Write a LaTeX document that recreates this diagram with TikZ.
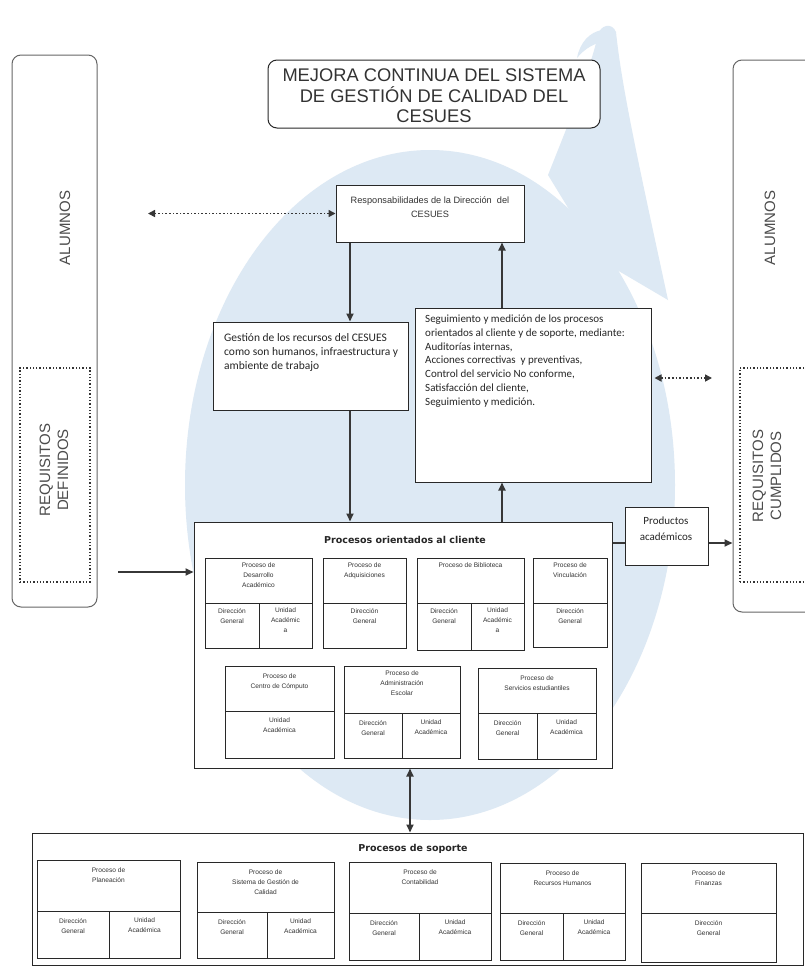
\documentclass[tikz,border=0pt]{standalone}
\usepackage{fontspec}
\setmainfont{Liberation Sans}
\newfontfamily\calfont{Carlito}
\newfontfamily\dvfont{DejaVu Sans}
\usetikzlibrary{arrows.meta,fit,calc}
\definecolor{wmc}{RGB}{221,233,244}
\definecolor{ln}{RGB}{40,40,40}
\definecolor{arc}{RGB}{55,55,55}
\newcommand\pbox[8]{%
  \node[subbox, fit={(#2,#3) (#4,#5)}] (#1) {};
  \draw[subline] (#2,#6) -- (#4,#6);
  \node[subtxt, anchor=north] (#1-t) at ($(#1.north)+(0,#8)$) {#7};
}
\newcommand\ptext[4]{\node[subtxt, anchor=north] (#1) at (#2,#3) {#4};}
\begin{document}
\begin{tikzpicture}[x=1pt,y=-1pt,
  mainbox/.style={draw=ln, line width=1pt, fill=white, inner sep=0pt},
  subbox/.style={draw=ln, line width=0.8pt, fill=white, inner sep=0pt},
  subline/.style={draw=ln, line width=0.8pt},
  sidebox/.style={draw=black!60, line width=1pt, fill=white, rounded corners=9pt, inner sep=0pt},
  dotbox/.style={draw=black!80, line width=1.3pt, dotted, inner sep=0pt},
  sidetxt/.style={rotate=90, align=center, font=\fontsize{15}{18}\selectfont, text=black!70},
  subtxt/.style={font=\fontsize{6.6}{10}\selectfont, align=center, inner sep=0pt, text=black!80},
  flow/.style={draw=arc, line width=1.8pt, -{Triangle[length=8pt,width=7pt]}},
  flowtwo/.style={draw=arc, line width=1.8pt, {Triangle[length=8pt,width=7pt]}-{Triangle[length=8pt,width=7pt]}},
  dflow/.style={draw=arc, line width=1.6pt, dotted, {Triangle[length=7pt,width=7pt]}-{Triangle[length=7pt,width=7pt]}},
  plainline/.style={draw=arc, line width=1.8pt},
  ]
\useasboundingbox (0,0) rectangle (805,975);
\fill[white] (0,0) rectangle (805,975);
% watermark
\fill[wmc] (430,485) ellipse [x radius=245pt, y radius=335pt];
\fill[wmc] (548,175) .. controls (570,120) and (590,70) .. (598,35) .. controls (600,25) and (612,22) .. (616,32) .. controls (622,90) and (640,170) .. (668,300) -- (600,260) -- cycle;
\fill[wmc] (602,30) .. controls (590,32) and (580,42) .. (577,58) .. controls (585,48) and (595,43) .. (606,41) -- cycle;

% side boxes
\node[sidebox, fit={(12,55) (97,607)}] (lbox) {};
\node[sidebox, fit={(733,60) (830,612)}] (rbox) {};
\node[sidetxt] (lalum) at (65,228) {ALUMNOS};
\node[sidetxt] (ralum) at (770,228) {ALUMNOS};
\node[dotbox, fit={(20,368) (90,582)}] (lreq) {};
\node[dotbox, fit={(740,368) (830,582)}] (rreq) {};
\node[sidetxt] (lreqt) at (54,470) {REQUISITOS\\DEFINIDOS};
\node[sidetxt] (rreqt) at (767,476) {REQUISITOS\\CUMPLIDOS};

% title
\node[mainbox, rounded corners=9pt, fit={(268,60) (600,128)}] (title) {};
\node[font=\fontsize{18.3}{20.5}\selectfont, align=center, text=black!80] (titlet) at (434,96) {MEJORA CONTINUA DEL SISTEMA\\DE GESTIÓN DE CALIDAD DEL\\CESUES};

% direction
\node[mainbox, fit={(336,185) (524,242)}] (resp) {};
\node[font=\fontsize{9.2}{14}\selectfont, align=center, text=black!80] (respt) at (430,207) {Responsabilidades de la Dirección\ \ del\\CESUES};

\node[mainbox, fit={(213,322) (408,410)}] (gest) {};
\node[font=\calfont\fontsize{11.5}{14}\selectfont, align=left, anchor=north west, inner sep=0pt, text=black!85] (gestt) at (224,333) {Gestión de los recursos del CESUES\\como son humanos, infraestructura y\\ambiente de trabajo};

\node[mainbox, fit={(415,308) (651,482)}] (seg) {};
\node[font=\calfont\fontsize{11}{13.7}\selectfont, align=left, anchor=north west, inner sep=0pt, text=black!85] (segt) at (425,315) {Seguimiento y medición de los procesos\\orientados al cliente y de soporte, mediante:\\Auditorías internas,\\Acciones correctivas \ y preventivas,\\Control del servicio No conforme,\\Satisfacción del cliente,\\Seguimiento y medición.};

% client processes
\node[mainbox, fit={(194,522) (612,768)}] (proc) {};
\node[font=\dvfont\bfseries\fontsize{9.5}{11}\selectfont, text=black!85] (proct) at (405,540) {Procesos orientados al cliente};

\pbox{desa}{205}{558}{312}{648}{603}{Proceso de\\Desarrollo\\Académico}{5}
\draw[subline] (259,603) -- (259,648);
\ptext{desa-l}{232}{608}{Dirección\\General}
\ptext{desa-r}{285.5}{608}{Unidad\\Académic\\a}

\pbox{adq}{323}{558}{406}{648}{603}{Proceso de\\Adquisiciones}{5}
\ptext{adq-b}{364.5}{608}{Dirección\\General}

\pbox{bib}{417}{558}{524}{650}{603}{Proceso de Biblioteca}{5}
\draw[subline] (471,603) -- (471,650);
\ptext{bib-l}{444}{608}{Dirección\\General}
\ptext{bib-r}{497.5}{608}{Unidad\\Académic\\a}

\pbox{vinc}{533}{558}{607}{647}{603}{Proceso de\\Vinculación}{5}
\ptext{vinc-b}{570}{608}{Dirección\\General}

\pbox{comp}{225}{666}{334}{758}{711}{Proceso de\\Centro de Cómputo}{8}
\ptext{comp-b}{279.5}{718}{Unidad\\Académica}

\pbox{adm}{344}{666}{460}{758}{713}{Proceso de\\Administración\\Escolar}{5}
\draw[subline] (402,713) -- (402,758);
\ptext{adm-l}{373}{720}{Dirección\\General}
\ptext{adm-r}{431}{720}{Unidad\\Académica}

\pbox{serv}{478}{668}{596}{759}{713}{Proceso de\\Servicios estudiantiles}{8}
\draw[subline] (537,713) -- (537,759);
\ptext{serv-l}{507.5}{720}{Dirección\\General}
\ptext{serv-r}{566.5}{720}{Unidad\\Académica}

% products
\node[mainbox, fit={(625,507) (708,565)}] (prod) {};
\node[font=\calfont\fontsize{11}{16}\selectfont, align=center, text=black!85] (prodt) at (666,529) {Productos\\académicos};

% support processes
\node[mainbox, fit={(32,833) (803,965)}] (sop) {};
\node[font=\dvfont\bfseries\fontsize{9.5}{11}\selectfont, text=black!85] (sopt) at (413,849) {Procesos de soporte};

\pbox{plan}{37}{860}{180}{958}{911}{Proceso de\\Planeación}{8}
\draw[subline] (109,911) -- (109,958);
\ptext{plan-l}{73}{918}{Dirección\\General}
\ptext{plan-r}{144.5}{918}{Unidad\\Académica}

\pbox{sgc}{197}{862}{334}{958}{912}{Proceso de\\Sistema de Gestión de\\Calidad}{8}
\draw[subline] (267,912) -- (267,958);
\ptext{sgc-l}{232}{919}{Dirección\\General}
\ptext{sgc-r}{300.5}{919}{Unidad\\Académica}

\pbox{cont}{349}{862}{491}{960}{913}{Proceso de\\Contabilidad}{8}
\draw[subline] (419,913) -- (419,960);
\ptext{cont-l}{384}{920}{Dirección\\General}
\ptext{cont-r}{455}{920}{Unidad\\Académica}

\pbox{rrhh}{500}{863}{625}{960}{913}{Proceso de\\Recursos Humanos}{8}
\draw[subline] (563,913) -- (563,960);
\ptext{rrhh-l}{531.5}{920}{Dirección\\General}
\ptext{rrhh-r}{594}{920}{Unidad\\Académica}

\pbox{fin}{641}{863}{776}{962}{913}{Proceso de\\Finanzas}{8}
\ptext{fin-b}{708.5}{920}{Dirección\\General}

% helper coordinates
\coordinate (xa) at (350,0);
\coordinate (xb) at (502,0);
\coordinate (xc) at (410,0);
\coordinate (ya) at (0,543);
\coordinate (lend) at (148,213.5);
\coordinate (rend) at (712,378);
\coordinate (lin) at (118,572);

% connectors
\draw[dflow] (resp.west) -- (lend);
\draw[dflow] ([xshift=3pt]seg.east |- rend) -- (rend);
\draw[flow] (resp.south -| xa) -- (gest.north -| xa);
\draw[flow] (seg.north -| xb) -- (resp.south -| xb);
\draw[flow] (gest.south -| xa) -- (proc.north -| xa);
\draw[flow] (proc.north -| xb) -- (seg.south -| xb);
\draw[flow] (lin) -- (proc.west |- lin);
\draw[plainline] (proc.east |- ya) -- (prod.west |- ya);
\draw[flow] (prod.east |- ya) -- (rbox.west |- ya);
\draw[flowtwo] (proc.south -| xc) -- (sop.north -| xc);
\end{tikzpicture}
\end{document}
